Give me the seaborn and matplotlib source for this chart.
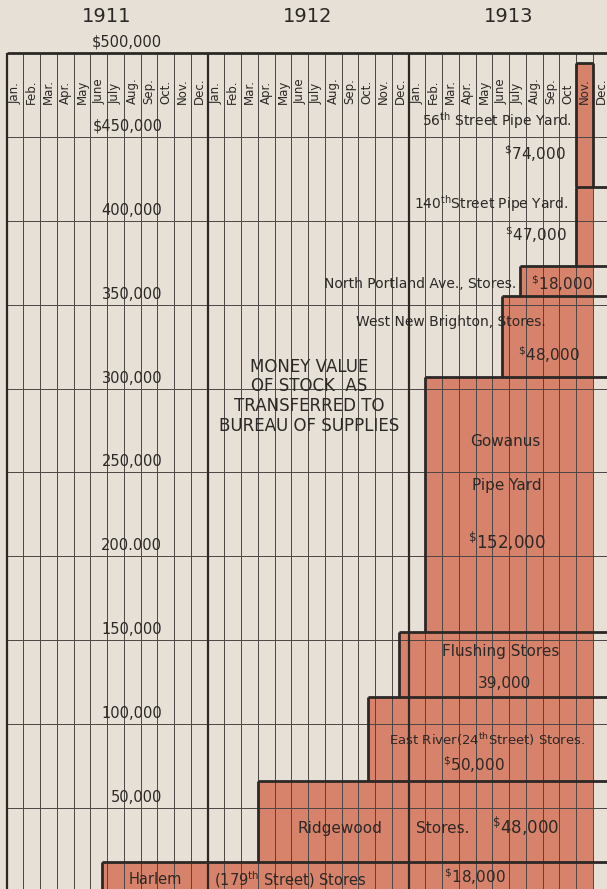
import numpy as np
import pandas as pd
import matplotlib.pyplot as plt
import seaborn as sns

sns.set_theme(style='white')
plt.rcParams['font.family'] = ['DejaVu Sans']

# stores in the order they were transferred (bottom of the stack first)
stores = ['Harlem (179th Street) Stores', 'Ridgewood Stores',
          'East River (24th Street) Stores', 'Flushing Stores',
          'Gowanus Pipe Yard', 'West New Brighton Stores',
          'North Portland Ave. Stores', '140th Street Pipe Yard',
          '56th Street Pipe Yard']
start_month = [5.7, 15, 21.55, 23.45, 25, 29.55, 30.63, 34, 34]  # months after Jan. 1911
values = [18000, 48000, 50000, 39000, 152000, 48000, 18000, 47000, 74000]
end_month = 35   # fill stops at the end of Nov. 1913
n_months = 36

years = ['1911', '1912', '1913']
month_names = ['Jan.', 'Feb.', 'Mar.', 'Apr.', 'May', 'June', 'July', 'Aug.', 'Sep.', 'Oct.', 'Nov.', 'Dec.']
month_names_1913 = ['Jan.', 'Feb.', 'Mar.', 'Apr.', 'May', 'June', 'July', 'Aug.', 'Sep.', 'Oct', 'Nov.', 'Dec.']
all_months = month_names + month_names + month_names_1913

y_ticks = [50000, 100000, 150000, 200000, 250000, 300000, 350000, 400000, 450000, 500000]
y_tick_labels = ['50,000', '100,000', '150,000', '200.000', '250,000', '300,000',
                 '350,000', '400,000', '$450,000', '$500,000']

bg = '#e6e0d6'
orange = '#d7826a'
ink = '#2c2826'
grid = '#4a4644'

df = pd.DataFrame({'store': stores, 'start': start_month, 'value': values})
cum = np.cumsum(values)
prev = cum - np.array(values)

fig = plt.figure(figsize=(6.07, 8.89), dpi=100)
fig.patch.set_facecolor(bg)
ax = fig.add_axes([0, 0, 1, 1])

# cumulative step area
bins = sorted(set(start_month)) + [end_month]
sns.histplot(data=df, x='start', weights='value', bins=bins, cumulative=True,
             element='step', fill=True, color=orange, alpha=1, linewidth=0,
             ax=ax, zorder=1)

# grid of months and 50,000 steps
top = y_ticks[-1]
thin = [m for m in range(1, n_months) if m % 12 != 0]
ax.vlines(thin, 0, top, color=grid, lw=0.7, zorder=2)
ax.vlines([0, 12, 24], 0, top, color=ink, lw=1.6, zorder=3)
ax.hlines(y_ticks[:-1], 0, n_months, color=grid, lw=0.7, zorder=2)
ax.hlines(top, 0, n_months, color=ink, lw=2, zorder=3)

# outline of each store block
right = [end_month if c == cum[-1] else n_months for c in cum]
ax.hlines(cum, start_month, right, color=ink, lw=2, zorder=3)
ax.vlines(start_month, prev, cum, color=ink, lw=2, zorder=3)
ax.vlines(end_month, prev[-1], cum[-1], color=ink, lw=2, zorder=3)

# headings and labels
for i, yr in enumerate(years):
    ax.text(i * 12 + 6, 521500, yr, ha='center', va='center', fontsize=14, color=ink)

for m, name in enumerate(all_months):
    ax.text(m + 0.5, 469500, name, rotation=90, ha='center', va='bottom',
            fontsize=8.5, color=ink, zorder=4)

for v, lab in zip(y_ticks, y_tick_labels):
    ax.text(9.3, v + 1800, lab, ha='right', va='bottom', fontsize=10.5, color=ink, zorder=4)

ax.text(18.05, 295500, 'MONEY VALUE\nOF STOCK  AS\nTRANSFERRED TO\nBUREAU OF SUPPLIES',
        ha='center', va='center', fontsize=12, linespacing=1.12, color=ink, zorder=4)

labels = [
    ('56$^{\\mathrm{th}}$ Street Pipe Yard.', 33.75, 459500, 10, 'right'),
    ('$^{\\$}$74,000', 33.35, 440000, 11, 'right'),
    ('140$^{\\mathrm{th}}$Street Pipe Yard.', 33.5, 410000, 10, 'right'),
    ('$^{\\$}$47,000', 33.45, 391500, 11, 'right'),
    ('North Portland Ave., Stores.', 30.4, 362300, 10, 'right'),
    ('$^{\\$}$18,000', 33.13, 362300, 11, 'center'),
    ('West New Brighton, Stores.', 26.5, 339700, 10, 'center'),
    ('$^{\\$}$48,000', 32.38, 320500, 11, 'center'),
    ('Gowanus', 29.75, 268200, 11, 'center'),
    ('Pipe Yard', 29.87, 242500, 11, 'center'),
    ('$^{\\$}$152,000', 29.87, 209200, 12, 'center'),
    ('Flushing Stores', 29.5, 143000, 11, 'center'),
    ('39,000', 29.75, 124000, 11, 'center'),
    ('East River(24$^{\\mathrm{th}}$Street) Stores.', 28.68, 90600, 9.5, 'center'),
    ('$^{\\$}$50,000', 27.9, 75700, 11, 'center'),
    ('Ridgewood', 19.9, 37500, 11, 'center'),
    ('Stores.', 26.05, 37500, 11, 'center'),
    ('$^{\\$}$48,000', 31.0, 39300, 12, 'center'),
    ('Harlem', 8.86, 7150, 10.5, 'center'),
    ('(179$^{\\mathrm{th}}$ Street) Stores', 16.92, 7150, 10.5, 'center'),
    ('$^{\\$}$18,000', 27.96, 8900, 11, 'center'),
]
for txt, x, y, fs, ha in labels:
    ax.text(x, y, txt, ha=ha, va='center', fontsize=fs, color=ink, zorder=4)

ax.set_xlim(-0.394, 35.845)
ax.set_ylim(1730, 531585)
ax.set_axis_off()

plt.savefig('out.png', dpi=100, facecolor=bg)
